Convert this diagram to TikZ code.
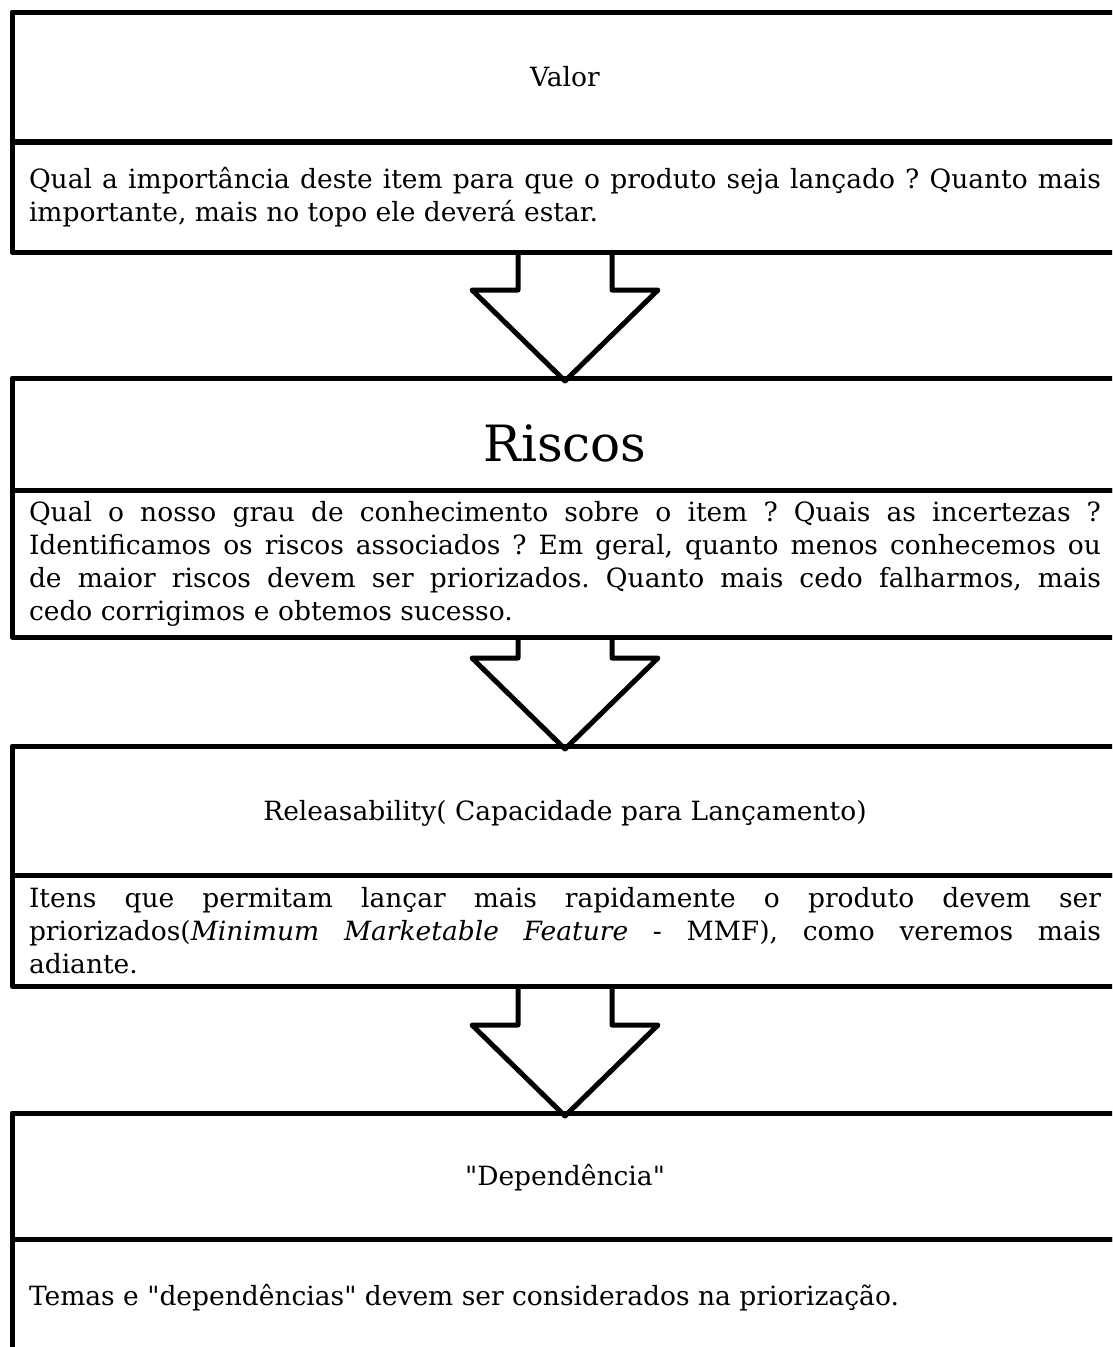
\documentclass[tikz,border=0pt]{standalone}
\usepackage{fontspec}
\setmainfont{DejaVu Serif}[Ligatures=TeXOff]
\usetikzlibrary{calc}
\tolerance=9999 \hyphenpenalty=10000 \exhyphenpenalty=10000
\frenchspacing
\begin{document}
\begin{tikzpicture}[x=1pt,y=-1pt,
  cell/.style={draw, line width=5pt, line join=round, minimum width=1106pt, inner sep=0pt, outer sep=0pt},
  head/.style={cell, font=\fontsize{26.5}{33}\selectfont, text height=19.3pt, text depth=0pt},
  body/.style={cell, font=\fontsize{26.5}{33}\selectfont, text width=1072pt, align=justify},
  arr/.style={line width=5pt, line join=round}]
\useasboundingbox (0,0) rectangle (1112,1347);
\clip (0,0) rectangle (1112,1347);
\node[head, minimum height=129pt] (h1) at (565,76.5) {Valor};
\node[body, minimum height=110pt] (b1) at (565,197) {Qual a importância deste item para que o produto seja lançado~? Quanto mais\linebreak importante, mais no topo ele deverá estar.};
\node[head, minimum height=112pt, font=\fontsize{50}{60}\selectfont, text height=54pt] (h2) at (565,434) {Riscos};
\node[body, minimum height=147pt] (b2) at (565,563.5) {Qual o nosso grau de conhecimento sobre o item~? Quais as incertezas~?\linebreak Identificamos os riscos associados~? Em geral, quanto menos conhecemos ou\linebreak de maior riscos devem ser priorizados. Quanto mais cedo falharmos, mais\linebreak cedo corrigimos e obtemos sucesso.};
\node[head, minimum height=129pt] (h3) at (565,810.5) {Releasability( Capacidade para Lançamento)};
\node[body, minimum height=111pt] (b3) at (565,930.5) {Itens que permitam lançar mais rapidamente o produto devem ser\linebreak priorizados(\textit{Minimum Marketable Feature} - MMF), como veremos mais\linebreak adiante.};
\node[head, minimum height=126pt] (h4) at (565,1176) {"Dependência"};
\node[body, minimum height=117pt] (b4) at (565,1297.5) {Temas e "dependências" devem ser considerados na priorização.};
\foreach \a/\b in {b1/h2, b2/h3, b3/h4} {
  \draw[arr] ($(\a.south)+(-47,0)$) -- ($(\b.north)+(-47,-88)$) -- ($(\b.north)+(-93,-88)$)
    -- ($(\b.north)+(0,3)$) -- ($(\b.north)+(93,-88)$) -- ($(\b.north)+(47,-88)$) -- ($(\a.south)+(47,0)$);
}
\end{tikzpicture}
\end{document}
